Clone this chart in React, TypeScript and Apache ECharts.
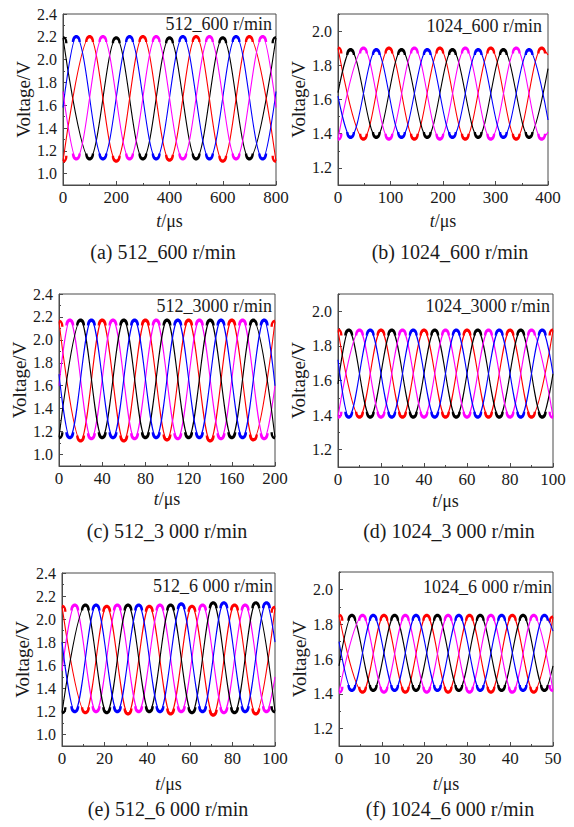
import React, { useEffect, useRef } from 'react';
import * as echarts from 'echarts';

// ---------- data (extrema, [t (µs), voltage (V)]) ----------
const A_BLACK = [[0, 2.19], [100, 1.13], [200, 2.19], [300, 1.13], [400, 2.19], [500, 1.13], [600, 2.19], [700, 1.13], [800, 2.19]];
const A_BLUE = [[0, 1.58], [50, 2.2], [150, 1.13], [250, 2.2], [350, 1.13], [450, 2.2], [550, 1.13], [650, 2.2], [750, 1.13], [800, 1.72]];
const A_RED = [[0, 1.11], [100, 2.2], [200, 1.11], [300, 2.2], [400, 1.12], [500, 2.2], [600, 1.11], [700, 2.2], [800, 1.11]];
const A_MAGENTA = [[0, 1.72], [50, 1.13], [150, 2.2], [250, 1.13], [350, 2.2], [450, 1.13], [550, 2.2], [650, 1.13], [750, 2.2], [800, 1.58]];

const B_RED = [[0, 1.9], [48.5, 1.37], [97, 1.9], [145.5, 1.37], [194, 1.9], [242.5, 1.37], [291, 1.9], [339.5, 1.37], [388, 1.9], [400, 1.86]];
const B_BLACK = [[0, 1.64], [24, 1.89], [73, 1.38], [121, 1.89], [170, 1.38], [218, 1.89], [267, 1.38], [315, 1.89], [364, 1.38], [400, 1.78]];
const B_MAGENTA = [[0, 1.37], [48.5, 1.9], [97, 1.37], [145.5, 1.9], [194, 1.37], [242.5, 1.9], [291, 1.37], [339.5, 1.9], [388, 1.37], [400, 1.41]];
const B_BLUE = [[0, 1.62], [24, 1.38], [73, 1.89], [121, 1.38], [170, 1.89], [218, 1.38], [267, 1.89], [315, 1.38], [364, 1.89], [400, 1.48]];

const C_RED = [[0, 2.16], [20, 1.12], [40, 2.17], [60, 1.12], [80, 2.17], [100, 1.13], [120, 2.17], [140, 1.12], [160, 2.17], [180, 1.13], [200, 2.16]];
const C_MAGENTA = [[0, 1.6], [10, 2.17], [30, 1.14], [50, 2.17], [70, 1.14], [90, 2.17], [110, 1.14], [130, 2.17], [150, 1.14], [170, 2.17], [190, 1.14], [200, 1.6]];
const C_BLACK = [[0, 1.15], [20, 2.17], [40, 1.15], [60, 2.17], [80, 1.15], [100, 2.17], [120, 1.15], [140, 2.17], [160, 1.15], [180, 2.17], [200, 1.15]];
const C_BLUE = [[0, 1.7], [10, 1.15], [30, 2.17], [50, 1.15], [70, 2.17], [90, 1.15], [110, 2.17], [130, 1.15], [150, 2.17], [170, 1.15], [190, 2.17], [200, 1.6]];

const D_RED = [[0, 1.89], [10, 1.39], [20, 1.89], [30, 1.39], [40, 1.89], [50, 1.39], [60, 1.89], [70, 1.39], [80, 1.89], [90, 1.39], [100, 1.89]];
const D_BLACK = [[0, 1.58], [5, 1.89], [15, 1.39], [25, 1.89], [35, 1.39], [45, 1.89], [55, 1.39], [65, 1.89], [75, 1.39], [85, 1.89], [95, 1.39], [100, 1.64]];
const D_MAGENTA = [[0, 1.39], [10, 1.89], [20, 1.39], [30, 1.89], [40, 1.39], [50, 1.89], [60, 1.39], [70, 1.89], [80, 1.39], [90, 1.89], [100, 1.39]];
const D_BLUE = [[0, 1.72], [5, 1.39], [15, 1.89], [25, 1.39], [35, 1.89], [45, 1.39], [55, 1.89], [65, 1.39], [75, 1.89], [85, 1.39], [95, 1.89], [100, 1.64]];

const E_RED = [[0, 2.11], [11, 1.19], [21, 2.11], [31, 1.18], [41, 2.11], [51, 1.18], [61, 2.11], [71, 1.17], [81, 2.12], [91, 1.18], [100, 2.1]];
const E_MAGENTA = [[0, 1.55], [6, 2.12], [16, 1.2], [26, 2.12], [36, 1.2], [46, 2.12], [56, 1.2], [66, 2.12], [76, 1.19], [86, 2.12], [96, 1.2], [100, 1.5]];
const E_BLACK = [[0, 1.19], [11, 2.12], [21, 1.19], [31, 2.12], [41, 1.2], [51, 2.12], [61, 1.19], [71, 2.14], [81, 1.19], [91, 2.14], [100, 1.2]];
const E_BLUE = [[0, 1.8], [6, 1.2], [16, 2.12], [26, 1.2], [36, 2.12], [46, 1.2], [56, 2.13], [66, 1.2], [76, 2.14], [86, 1.2], [96, 2.14], [100, 1.8]];

const F_RED = [[0, 1.85], [5.5, 1.41], [10.5, 1.85], [15.5, 1.41], [20.5, 1.85], [25.5, 1.41], [30.5, 1.85], [35.5, 1.41], [40.5, 1.85], [45.5, 1.41], [50, 1.84]];
const F_BLACK = [[0, 1.56], [3, 1.85], [8, 1.42], [13, 1.85], [18, 1.42], [23, 1.85], [28, 1.42], [33, 1.85], [38, 1.42], [43, 1.85], [48, 1.42], [50, 1.56]];
const F_MAGENTA = [[0, 1.41], [5.5, 1.85], [10.5, 1.41], [15.5, 1.85], [20.5, 1.41], [25.5, 1.85], [30.5, 1.41], [35.5, 1.85], [40.5, 1.41], [45.5, 1.85], [50, 1.42]];
const F_BLUE = [[0, 1.7], [3, 1.42], [8, 1.85], [13, 1.42], [18, 1.85], [23, 1.42], [28, 1.85], [33, 1.42], [38, 1.85], [43, 1.42], [48, 1.85], [50, 1.76]];

// tick labels
const Y_TICKS_WIDE = [1.0, 1.2, 1.4, 1.6, 1.8, 2.0, 2.2, 2.4];
const Y_TICKS_NARROW = [1.2, 1.4, 1.6, 1.8, 2.0];
const A_X_LABELS = ['0', '200', '400', '600', '800'];
const B_X_LABELS = ['0', '100', '200', '300', '400'];
const C_X_LABELS = ['0', '40', '80', '120', '160', '200'];
const D_X_LABELS = ['0', '10', '40', '60', '80', '100'];
const E_X_LABELS = ['0', '20', '40', '60', '80', '100'];
const F_X_LABELS = ['0', '10', '20', '30', '40', '50'];

const TAGS = ['512_600 r/min', '1024_600 r/min', '512_3000 r/min', '1024_3000 r/min', '512_6 000 r/min', '1024_6 000 r/min'];
const CAPTIONS = ['(a) 512_600 r/min', '(b) 1024_600 r/min', '(c) 512_3 000 r/min', '(d) 1024_3 000 r/min', '(e) 512_6 000 r/min', '(f) 1024_6 000 r/min'];

// ---------- layout / style ----------
const FONT = 'Liberation Serif';
const AXIS_COLOR = '#4a4a4a';
const TEXT_COLOR = '#1a1a1a';
const COLORS = { black: '#000000', red: '#ff0000', blue: '#0000ff', magenta: '#ff00ff' };
// thick caps drawn at the flat tops / bottoms of the waves (full and edge-clipped halves)
const PEAK_CAP = 'path://M0,10 C0,-3 10,-3 10,10 L7.4,10 C7.4,3.2 2.6,3.2 2.6,10 Z';
const TROUGH_CUP = 'path://M0,0 C0,13 10,13 10,0 L7.4,0 C7.4,6.8 2.6,6.8 2.6,0 Z';
const PEAK_RIGHT = 'path://M5,0.3 C8,0.3 10,4 10,10 L7.4,10 C7.4,5.6 6.6,3.7 5,3.7 Z';
const PEAK_LEFT = 'path://M5,0.3 C2,0.3 0,4 0,10 L2.6,10 C2.6,5.6 3.4,3.7 5,3.7 Z';
const TROUGH_RIGHT = 'path://M5,9.7 C8,9.7 10,6 10,0 L7.4,0 C7.4,4.4 6.6,6.3 5,6.3 Z';
const TROUGH_LEFT = 'path://M5,9.7 C2,9.7 0,6 0,0 L2.6,0 C2.6,4.4 3.4,6.3 5,6.3 Z';

const PANELS = [
  { grid: { left: 63, top: 14, width: 213, height: 171 }, xMax: 800, xStep: 200, xLabels: A_X_LABELS, yMin: 0.9, yMax: 2.4, yTicks: Y_TICKS_WIDE, xGap: 27, yGap: 29, tag: [272, 24], cap: [163, 252],
    series: [['black', A_BLACK], ['red', A_RED], ['blue', A_BLUE], ['magenta', A_MAGENTA]] },
  { grid: { left: 338, top: 14, width: 210, height: 171 }, xMax: 400, xStep: 100, xLabels: B_X_LABELS, yMin: 1.1, yMax: 2.1, yTicks: Y_TICKS_NARROW, xGap: 27, yGap: 29, tag: [542, 26], cap: [450, 252],
    series: [['red', B_RED], ['black', B_BLACK], ['magenta', B_MAGENTA], ['blue', B_BLUE]] },
  { grid: { left: 59, top: 294, width: 216, height: 172 }, xMax: 200, xStep: 40, xLabels: C_X_LABELS, yMin: 0.9, yMax: 2.4, yTicks: Y_TICKS_WIDE, xGap: 24, yGap: 26, tag: [272, 306], cap: [167, 531],
    series: [['red', C_RED], ['magenta', C_MAGENTA], ['black', C_BLACK], ['blue', C_BLUE]] },
  { grid: { left: 338, top: 294, width: 215, height: 173 }, xMax: 100, xStep: 20, xLabels: D_X_LABELS, yMin: 1.1, yMax: 2.1, yTicks: Y_TICKS_NARROW, xGap: 25, yGap: 29, tag: [550, 306], cap: [449, 531],
    series: [['red', D_RED], ['black', D_BLACK], ['magenta', D_MAGENTA], ['blue', D_BLUE]] },
  { grid: { left: 62, top: 573, width: 213, height: 173 }, xMax: 100, xStep: 20, xLabels: E_X_LABELS, yMin: 0.9, yMax: 2.4, yTicks: Y_TICKS_WIDE, xGap: 29, yGap: 28, tag: [273, 586], cap: [168, 809],
    series: [['red', E_RED], ['magenta', E_MAGENTA], ['black', E_BLACK], ['blue', E_BLUE]] },
  { grid: { left: 339, top: 572, width: 214, height: 174 }, xMax: 50, xStep: 10, xLabels: F_X_LABELS, yMin: 1.1, yMax: 2.1, yTicks: Y_TICKS_NARROW, xGap: 29, yGap: 30, tag: [552, 587], cap: [450, 809],
    series: [['red', F_RED], ['black', F_BLACK], ['magenta', F_MAGENTA], ['blue', F_BLUE]] },
];

function toData(arr: number[][]) {
  const vals = arr.map((p) => p[1]);
  const mx = Math.max(...vals);
  const mn = Math.min(...vals);
  const last = arr.length - 1;
  return arr.map((p, i) => {
    const prev = arr[i - 1];
    const next = arr[i + 1];
    let kind = 0; // 1 = peak, -1 = trough
    if (prev && next) {
      if (p[1] > prev[1] && p[1] > next[1]) kind = 1;
      else if (p[1] < prev[1] && p[1] < next[1]) kind = -1;
    } else {
      if (Math.abs(p[1] - mx) < 0.03) kind = 1;
      else if (Math.abs(p[1] - mn) < 0.03) kind = -1;
    }
    if (kind === 0) return { value: p, symbol: 'none' };
    const dy = kind === 1 ? 1.7 : -1.7;
    if (i === 0) {
      return { value: p, symbol: kind === 1 ? PEAK_RIGHT : TROUGH_RIGHT, symbolSize: [4.5, 7], symbolOffset: [2.25, dy] };
    }
    if (i === last) {
      return { value: p, symbol: kind === 1 ? PEAK_LEFT : TROUGH_LEFT, symbolSize: [4.5, 7], symbolOffset: [-2.25, dy] };
    }
    return { value: p, symbol: kind === 1 ? PEAK_CAP : TROUGH_CUP, symbolSize: [9, 7], symbolOffset: [0, dy] };
  });
}

function buildOption() {
  const grid: any[] = [];
  const xAxis: any[] = [];
  const yAxis: any[] = [];
  const series: any[] = [];
  const graphic: any[] = [];

  PANELS.forEach((p, i) => {
    grid.push({ ...p.grid, show: true, borderColor: AXIS_COLOR, borderWidth: 1, backgroundColor: 'transparent' });
    xAxis.push({
      type: 'value', gridIndex: i, min: 0, max: p.xMax, interval: p.xStep,
      name: '{i|t}{n|/μs}', nameLocation: 'middle', nameGap: p.xGap,
      nameTextStyle: {
        fontFamily: FONT, fontSize: 18, color: TEXT_COLOR,
        rich: {
          i: { fontFamily: FONT, fontSize: 18, fontStyle: 'italic', color: TEXT_COLOR },
          n: { fontFamily: FONT, fontSize: 18, color: TEXT_COLOR },
        },
      },
      axisLine: { show: true, lineStyle: { color: AXIS_COLOR, width: 1 } },
      axisTick: { show: true, inside: true, length: 4, lineStyle: { color: AXIS_COLOR } },
      minorTick: { show: true, splitNumber: 2, length: 2, lineStyle: { color: AXIS_COLOR } },
      splitLine: { show: false },
      axisLabel: {
        show: true, margin: 4, fontFamily: FONT, fontSize: 17, color: TEXT_COLOR, showMaxLabel: true, showMinLabel: true,
        formatter: (v: number) => p.xLabels[Math.round(v / p.xStep)] ?? '',
      },
    });
    yAxis.push({
      type: 'value', gridIndex: i, min: p.yMin, max: p.yMax,
      name: '{v|Voltage/V}', nameLocation: 'middle', nameGap: p.yGap, nameRotate: 90,
      nameTextStyle: { fontFamily: FONT, fontSize: 19, color: TEXT_COLOR, rich: { v: { fontFamily: FONT, fontSize: 19, color: TEXT_COLOR } } },
      axisLine: { show: true, lineStyle: { color: AXIS_COLOR, width: 1 } },
      axisTick: { show: true, inside: true, length: 4, lineStyle: { color: AXIS_COLOR }, customValues: p.yTicks },
      splitLine: { show: false },
      axisLabel: {
        show: true, margin: 6, fontFamily: FONT, fontSize: 16, color: TEXT_COLOR, customValues: p.yTicks,
        formatter: (v: number) => v.toFixed(1),
      },
    });
    // minor ticks every 0.1 V (axis in tenths of a volt)
    yAxis.push({
      type: 'value', gridIndex: i, min: Math.round(p.yMin * 10), max: Math.round(p.yMax * 10), interval: 1, position: 'left',
      axisLine: { show: false }, axisLabel: { show: false }, splitLine: { show: false },
      axisTick: { show: true, inside: true, length: 2, lineStyle: { color: AXIS_COLOR } },
    });
    p.series.forEach(([c, arr]: any, k: number) => {
      series.push({
        type: 'line', xAxisIndex: i, yAxisIndex: 2 * i, data: toData(arr),
        smooth: 0.36, smoothMonotone: 'x', showAllSymbol: true, symbolSize: [9, 7], clip: true, silent: true,
        lineStyle: { color: (COLORS as any)[c], width: 1.1 }, itemStyle: { color: (COLORS as any)[c], borderWidth: 0 }, z: 2 + k,
      });
    });
    graphic.push({
      type: 'text', x: p.tag[0], y: p.tag[1], z: 100,
      style: { text: TAGS[i], fontFamily: FONT, fontSize: 18, fill: TEXT_COLOR, align: 'right', verticalAlign: 'middle' },
    });
    graphic.push({
      type: 'text', x: p.cap[0], y: p.cap[1], z: 100,
      style: { text: CAPTIONS[i], fontFamily: FONT, fontSize: 20, fill: TEXT_COLOR, align: 'center', verticalAlign: 'middle' },
    });
  });

  return { animation: false, backgroundColor: '#ffffff', textStyle: { fontFamily: FONT }, grid, xAxis, yAxis, series, graphic };
}

export default function App() {
  const ref = useRef<HTMLDivElement>(null);
  useEffect(() => {
    if (!ref.current) return;
    const chart = echarts.init(ref.current, null, { renderer: 'svg' });
    chart.setOption(buildOption() as any);
    return () => chart.dispose();
  }, []);
  return <div ref={ref} style={{ position: 'fixed', left: 0, top: 0, width: 574, height: 827, background: '#fff' }} />;
}
